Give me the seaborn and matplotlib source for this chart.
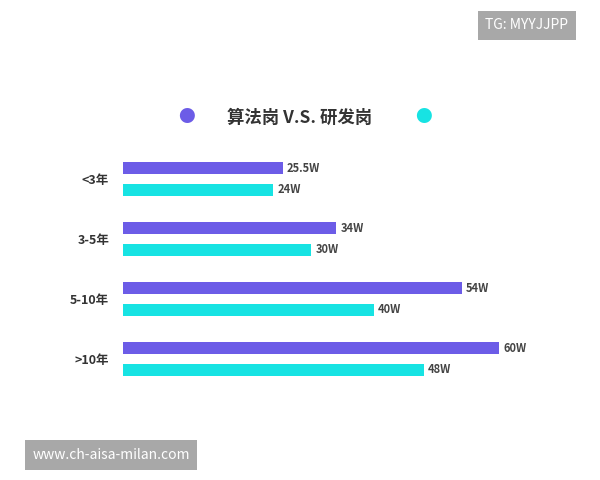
import matplotlib
matplotlib.use("Agg")
import matplotlib.pyplot as plt
import seaborn as sns
import pandas as pd

categories = ["<3年", "3-5年", "5-10年", ">10年"]
algo = [25.5, 34, 54, 60]
dev = [24, 30, 40, 48]
algo_labels = ["25.5W", "34W", "54W", "60W"]
dev_labels = ["24W", "30W", "40W", "48W"]
series = ["算法岗", "研发岗"]

sns.set_theme(style="white")
plt.rcParams['font.family'] = ['Noto Sans CJK SC', 'DejaVu Sans']

df = pd.DataFrame({
    "cat": categories * 2,
    "val": algo + dev,
    "s": [series[0]] * 4 + [series[1]] * 4,
})
colors = ["#6C5CE7", "#17E3E3"]

fig = plt.figure(figsize=(6, 4.8), dpi=100)
ax = fig.add_axes([0.205, 0.19, 0.66, 0.5])
sns.barplot(data=df, y="cat", x="val", hue="s", palette=colors, orient="h",
            width=0.72, ax=ax, legend=False, saturation=1)
# thinner bars with a gap inside each pair
for cont in ax.containers:
    for p in cont.patches:
        c = p.get_y() + p.get_height() / 2
        p.set_height(0.2)
        p.set_y(c - 0.1)
        p.set_edgecolor("none")
ax.set_xlim(0, 60 / 0.95)
ax.set_xlabel(""); ax.set_ylabel("")
ax.set_xticks([])
for sp in ax.spines.values():
    sp.set_visible(False)
ax.tick_params(axis="y", length=0, pad=10)
for t in ax.get_yticklabels():
    t.set_fontsize(9); t.set_fontweight("bold"); t.set_color("#333333")

for cont, labs in zip(ax.containers, [algo_labels, dev_labels]):
    ax.bar_label(cont, labels=labs, padding=3, fontsize=8, fontweight="bold", color="#444444")

# legend title
fig.text(0.31, 0.755, "●", color=colors[0], fontsize=12, ha="center", va="center")
fig.text(0.5, 0.755, "算法岗 V.S. 研发岗", fontsize=12.5, fontweight="bold",
         color="#333333", ha="center", va="center")
fig.text(0.705, 0.755, "●", color=colors[1], fontsize=12, ha="center", va="center")

# watermarks
fig.text(0.878, 0.947, "TG: MYYJJPP", fontsize=10, color="white", ha="center", va="center",
         bbox=dict(boxstyle="square,pad=0.55", fc="#A8A8A8", ec="none"))
fig.text(0.185, 0.052, "www.ch-aisa-milan.com", fontsize=10, color="white", ha="center", va="center",
         bbox=dict(boxstyle="square,pad=0.55", fc="#A8A8A8", ec="none"))

fig.savefig("out.png", dpi=100)
